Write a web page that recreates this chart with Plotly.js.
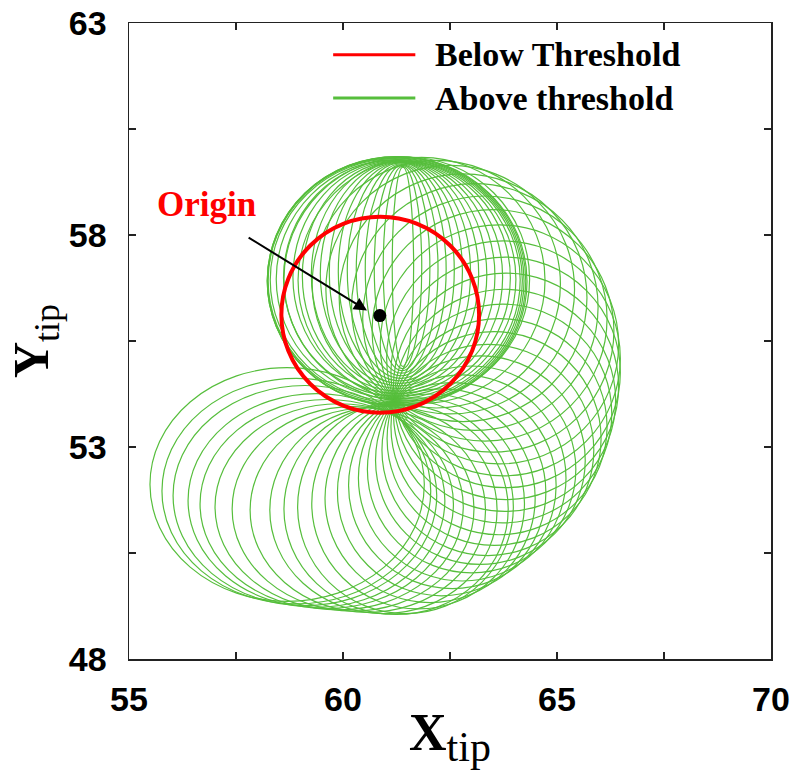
<!DOCTYPE html>
<html><head><meta charset="utf-8">
<script src="https://cdn.plot.ly/plotly-3.0.1.min.js"></script>
<style>html,body{margin:0;padding:0;background:#fff}</style>
</head><body><div id="chart" style="width:793px;height:770px"></div>
<script>
// ---- data ----
const xRange = [55, 70];
const yRange = [48, 63];
const originX = [60.86];
const originY = [56.10];
// below-threshold tip circle: centre and radius
const belowCx = [60.87];
const belowCy = [56.12];
const belowR = [2.31];
// above-threshold tip loops: bounding boxes of each loop
const aboveX0 = [61.15,60.94,60.73,60.52,60.31,60.10,59.89,59.68,59.47,59.26,59.05,58.83,58.61,58.44,58.30,58.25,58.23,58.23,58.24,
  58.62,58.95,59.28,59.60,59.91,60.20,60.46,60.68,60.87,61.02,61.12,61.18,61.20,61.18,61.12,61.03,60.91,60.76,60.57,60.36,60.13,59.87,59.58,59.27,58.94,
  58.62,58.29,57.83,57.41,57.01,56.66,56.38,56.03,55.77,55.49];
const aboveX1 = [61.65,61.84,62.03,62.22,62.41,62.60,62.79,62.98,63.17,63.36,63.55,63.73,63.91,64.04,64.14,64.19,64.23,64.27,64.30,
  64.36,64.72,65.08,65.41,65.70,65.96,66.17,66.33,66.44,66.48,66.48,66.44,66.37,66.28,66.17,66.03,65.86,65.66,65.44,65.21,64.98,64.74,64.49,64.24,63.98,
  63.86,63.60,63.33,63.06,62.81,62.58,62.38,62.19,62.05,61.90];
const aboveY0 = [54.90,54.85,54.80,54.74,54.68,54.62,54.56,54.50,54.44,54.38,54.32,54.26,54.20,54.14,54.08,54.04,54.00,53.98,53.97,
  54.08,54.03,53.92,53.78,53.60,53.39,53.14,52.88,52.60,52.32,52.04,51.76,51.48,51.21,50.93,50.68,50.44,50.23,50.03,49.84,49.66,49.49,49.33,49.18,49.07,
  49.05,49.07,49.10,49.13,49.16,49.19,49.22,49.26,49.30,49.36];
const aboveY1 = [59.60,59.62,59.64,59.66,59.68,59.70,59.71,59.72,59.73,59.74,59.75,59.76,59.77,59.78,59.80,59.82,59.84,59.85,59.85,
  59.84,59.83,59.76,59.64,59.44,59.21,58.92,58.60,58.24,57.86,57.48,57.10,56.72,56.37,56.03,55.72,55.42,55.15,54.91,54.70,54.52,54.37,54.25,54.16,54.11,
  54.02,53.96,53.92,53.95,54.02,54.12,54.26,54.45,54.62,54.87];
const seriesNames = ['Below Threshold', 'Above threshold'];
const originLabel = 'Origin';

// ---- styling ----
const RED = 'rgb(255,0,0)';
const GREEN = 'rgb(86,190,60)';
const shapes = [];
for (let i = 0; i < aboveX0.length; i++) {
  shapes.push({type:'circle', xref:'x', yref:'y', layer:'below',
    x0: aboveX0[i], x1: aboveX1[i], y0: aboveY0[i], y1: aboveY1[i],
    line:{color: GREEN, width: 1.2}});
}
for (let i = 0; i < belowCx.length; i++) {
  shapes.push({type:'circle', xref:'x', yref:'y', layer:'below',
    x0: belowCx[i]-belowR[i], x1: belowCx[i]+belowR[i],
    y0: belowCy[i]-belowR[i], y1: belowCy[i]+belowR[i],
    line:{color: RED, width: 4}});
}
// legend samples
shapes.push({type:'line', xref:'paper', yref:'paper', x0:0.318, x1:0.446, y0:0.950, y1:0.950, line:{color:RED, width:3}});
shapes.push({type:'line', xref:'paper', yref:'paper', x0:0.318, x1:0.446, y0:0.882, y1:0.882, line:{color:GREEN, width:3}});

const serif = 'Liberation Serif, Times New Roman, serif';
const sans = 'Liberation Sans, Arial, sans-serif';

const annotations = [
  {xref:'paper', yref:'paper', x:0.474, y:0.950, xanchor:'left', yanchor:'middle', showarrow:false,
   text:'<b>'+seriesNames[0]+'</b>', font:{family:serif, size:34, color:'#000'}},
  {xref:'paper', yref:'paper', x:0.474, y:0.882, xanchor:'left', yanchor:'middle', showarrow:false,
   text:'<b>'+seriesNames[1]+'</b>', font:{family:serif, size:34, color:'#000'}},
  {xref:'x', yref:'y', x:56.82, y:58.71, showarrow:false, xanchor:'center', yanchor:'middle',
   text:'<b>'+originLabel+'</b>', font:{family:serif, size:35, color:RED}},
  {xref:'x', yref:'y', axref:'x', ayref:'y', x:60.56, y:56.22, ax:57.76, ay:57.96,
   text:'', showarrow:true, arrowhead:2, arrowsize:1.3, arrowwidth:2, arrowcolor:'#000', standoff:0}
];

const axisCommon = {
  showgrid:false, zeroline:false, showline:true, linecolor:'#222', linewidth:1.5,
  mirror:'ticks', ticks:'inside', ticklen:7, tickwidth:1.2, tickcolor:'#222',
  dtick:5, tickfont:{family:sans, size:34, color:'#000', weight:'bold'},
  minor:{dtick:2.5, ticks:'inside', ticklen:7, tickwidth:1.2, tickcolor:'#222'}
};

const data = [{
  type:'scatter', mode:'markers', x: originX, y: originY,
  marker:{color:'#000', size:13}, showlegend:false, hoverinfo:'skip'
}];

const layout = {
  width:793, height:770,
  margin:{l:129, r:22, t:23, b:111},
  paper_bgcolor:'#fff', plot_bgcolor:'#fff',
  showlegend:false,
  xaxis: Object.assign({}, axisCommon, {range:xRange, tick0:55, ticklabelstandoff:10,
    minor:Object.assign({}, axisCommon.minor, {tick0:55}),
    title:{text:'<b>X</b><sub><span style="font-size:42px">tip</span></sub>', standoff:6,
      font:{family:serif, size:52, color:'#000'}}}),
  yaxis: Object.assign({}, axisCommon, {range:yRange, tick0:48, ticklabelstandoff:14,
    minor:Object.assign({}, axisCommon.minor, {tick0:48}),
    title:{text:'<b>Y</b><sub><span style="font-size:36px">tip</span></sub>', standoff:4,
      font:{family:serif, size:50, color:'#000'}}}),
  shapes: shapes,
  annotations: annotations
};

Plotly.newPlot('chart', data, layout, {displayModeBar:false, staticPlot:true});
</script>
</body></html>
